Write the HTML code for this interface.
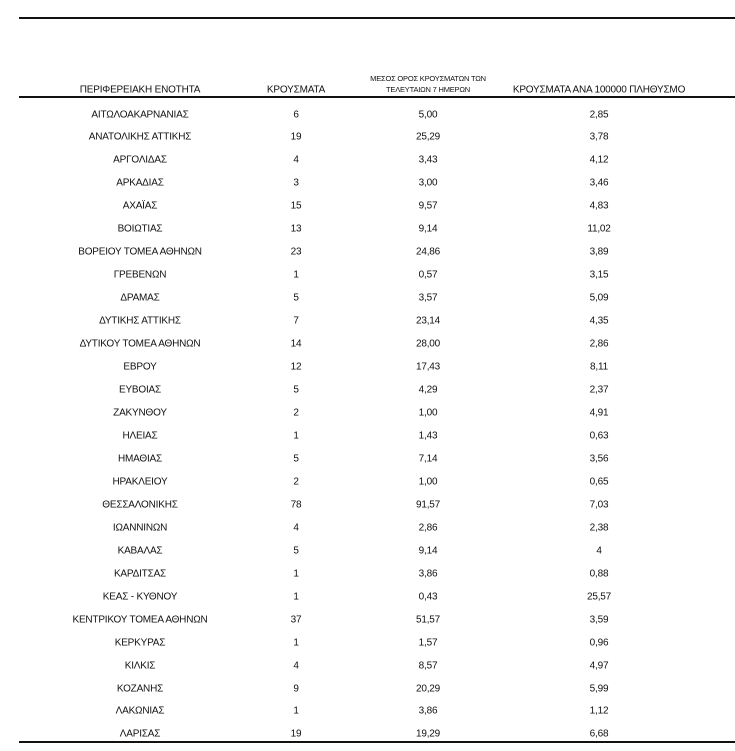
<!DOCTYPE html>
<html><head><meta charset="utf-8"><style>
body{margin:0;width:735px;height:751px;background:#fff;position:relative;overflow:hidden;font-family:"Liberation Sans","DejaVu Sans",sans-serif;color:#111}
.l{position:absolute;background:#111}
.t{position:absolute;transform:translate(-50%,-50%);white-space:nowrap;font-size:10px;letter-spacing:-0.2px}
.h{font-size:10px}
.s{font-size:7.5px;line-height:11px;text-align:center}
</style></head><body>
<div class="l" style="left:19px;top:17px;width:716px;height:2px"></div>
<div class="l" style="left:19px;top:96px;width:716px;height:1.5px"></div>
<div class="l" style="left:19px;top:741px;width:716px;height:2px"></div>
<div class="t h" style="left:140px;top:90px">ΠΕΡΙΦΕΡΕΙΑΚΗ ΕΝΟΤΗΤΑ</div>
<div class="t h" style="left:296px;top:90px">ΚΡΟΥΣΜΑΤΑ</div>
<div class="t s" style="left:428px;top:84px">ΜΕΣΟΣ ΟΡΟΣ ΚΡΟΥΣΜΑΤΩΝ ΤΩΝ<br>ΤΕΛΕΥΤΑΙΩΝ 7 ΗΜΕΡΩΝ</div>
<div class="t h" style="left:599px;top:90px">ΚΡΟΥΣΜΑΤΑ ΑΝΑ 100000 ΠΛΗΘΥΣΜΟ</div>
<div id="rows"></div>
<script>
var d=[["ΑΙΤΩΛΟΑΚΑΡΝΑΝΙΑΣ","6","5,00","2,85"],["ΑΝΑΤΟΛΙΚΗΣ ΑΤΤΙΚΗΣ","19","25,29","3,78"],["ΑΡΓΟΛΙΔΑΣ","4","3,43","4,12"],["ΑΡΚΑΔΙΑΣ","3","3,00","3,46"],["ΑΧΑΪΑΣ","15","9,57","4,83"],["ΒΟΙΩΤΙΑΣ","13","9,14","11,02"],["ΒΟΡΕΙΟΥ ΤΟΜΕΑ ΑΘΗΝΩΝ","23","24,86","3,89"],["ΓΡΕΒΕΝΩΝ","1","0,57","3,15"],["ΔΡΑΜΑΣ","5","3,57","5,09"],["ΔΥΤΙΚΗΣ ΑΤΤΙΚΗΣ","7","23,14","4,35"],["ΔΥΤΙΚΟΥ ΤΟΜΕΑ ΑΘΗΝΩΝ","14","28,00","2,86"],["ΕΒΡΟΥ","12","17,43","8,11"],["ΕΥΒΟΙΑΣ","5","4,29","2,37"],["ΖΑΚΥΝΘΟΥ","2","1,00","4,91"],["ΗΛΕΙΑΣ","1","1,43","0,63"],["ΗΜΑΘΙΑΣ","5","7,14","3,56"],["ΗΡΑΚΛΕΙΟΥ","2","1,00","0,65"],["ΘΕΣΣΑΛΟΝΙΚΗΣ","78","91,57","7,03"],["ΙΩΑΝΝΙΝΩΝ","4","2,86","2,38"],["ΚΑΒΑΛΑΣ","5","9,14","4"],["ΚΑΡΔΙΤΣΑΣ","1","3,86","0,88"],["ΚΕΑΣ - ΚΥΘΝΟΥ","1","0,43","25,57"],["ΚΕΝΤΡΙΚΟΥ ΤΟΜΕΑ ΑΘΗΝΩΝ","37","51,57","3,59"],["ΚΕΡΚΥΡΑΣ","1","1,57","0,96"],["ΚΙΛΚΙΣ","4","8,57","4,97"],["ΚΟΖΑΝΗΣ","9","20,29","5,99"],["ΛΑΚΩΝΙΑΣ","1","3,86","1,12"],["ΛΑΡΙΣΑΣ","19","19,29","6,68"]];
var xs=[140,296,428,599],h="";
d.forEach(function(r,i){var y=114.5+22.96*i;r.forEach(function(c,j){h+='<div class="t" style="left:'+xs[j]+'px;top:'+y+'px">'+c+'</div>';});});
document.getElementById("rows").innerHTML=h;
</script>
</body></html>
